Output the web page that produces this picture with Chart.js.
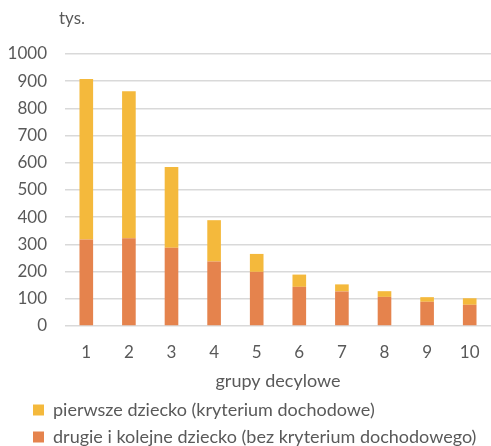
<!DOCTYPE html>
<html>
<head>
<meta charset="utf-8">
<script src="https://cdn.jsdelivr.net/npm/chart.js@4"></script>
<style>
  body { margin: 0; background: #fff; }
  #wrap { width: 491px; height: 446px; }
</style>
</head>
<body>
<div id="wrap"><canvas id="myChart"></canvas></div>
<script>
const groups = ['1', '2', '3', '4', '5', '6', '7', '8', '9', '10'];
// tys. dzieci w grupach decylowych
const secondChild = [318, 323, 288, 237, 199, 144, 127, 107, 89, 78];
const firstChild = [590, 540, 297, 152, 66, 45, 26, 21, 17, 24];
const yTicks = [0, 100, 200, 300, 400, 500, 600, 700, 800, 900, 1000];

const textColor = '#595959';
const fontFamily = 'Lato, "Open Sans", sans-serif';

// jednostka nad osią Y
const unitLabel = {
    id: 'unitLabel',
    afterDraw(chart) {
        const c = chart.ctx;
        c.save();
        c.fillStyle = textColor;
        c.font = '17px ' + fontFamily;
        c.textBaseline = 'middle';
        c.fillText('tys.', 59, 19);
        c.restore();
    }
};

// legenda trochę bardziej w prawo niż oś Y
const legendShift = {
    id: 'legendShift',
    afterLayout(chart) {
        chart.legend.left += 16;
    }
};

const ctx = document.getElementById('myChart');
new Chart(ctx, {
    type: 'bar',
    data: {
        labels: groups,
        datasets: [{
            label: 'drugie i kolejne dziecko (bez kryterium dochodowego)',
            data: secondChild,
            backgroundColor: '#E5834D',
            borderWidth: 0
        }, {
            label: 'pierwsze dziecko (kryterium dochodowe)',
            data: firstChild,
            backgroundColor: '#F4B93C',
            borderWidth: 0
        }]
    },
    options: {
        responsive: true,
        maintainAspectRatio: false,
        animation: false,
        layout: { padding: { top: 54, left: 8, right: 0, bottom: -10 } },
        datasets: {
            bar: { categoryPercentage: 1, barPercentage: 0.32 }
        },
        scales: {
            x: {
                stacked: true,
                grid: { display: false },
                border: { display: false },
                ticks: { color: textColor, font: { family: fontFamily, size: 17 }, padding: 8 },
                title: {
                    display: true,
                    text: 'grupy decylowe',
                    color: textColor,
                    font: { family: fontFamily, size: 18 },
                    padding: { top: 0, bottom: 0 }
                }
            },
            y: {
                stacked: true,
                min: 0,
                max: 1000,
                afterBuildTicks(axis) {
                    axis.ticks = yTicks.map(v => ({ value: v }));
                },
                afterFit(axis) {
                    axis.width = 57;
                },
                grid: { color: '#D9D9D9', lineWidth: 1.5, drawTicks: false },
                border: { display: false },
                ticks: {
                    color: textColor,
                    font: { family: fontFamily, size: 17 },
                    padding: 18,
                    callback: v => String(v)
                }
            }
        },
        plugins: {
            legend: {
                position: 'bottom',
                align: 'start',
                reverse: true,
                labels: {
                    color: textColor,
                    font: { family: fontFamily, size: 18 },
                    boxWidth: 11,
                    boxHeight: 11,
                    padding: 9
                }
            },
            tooltip: { enabled: false }
        }
    },
    plugins: [unitLabel, legendShift]
});
</script>
</body>
</html>
